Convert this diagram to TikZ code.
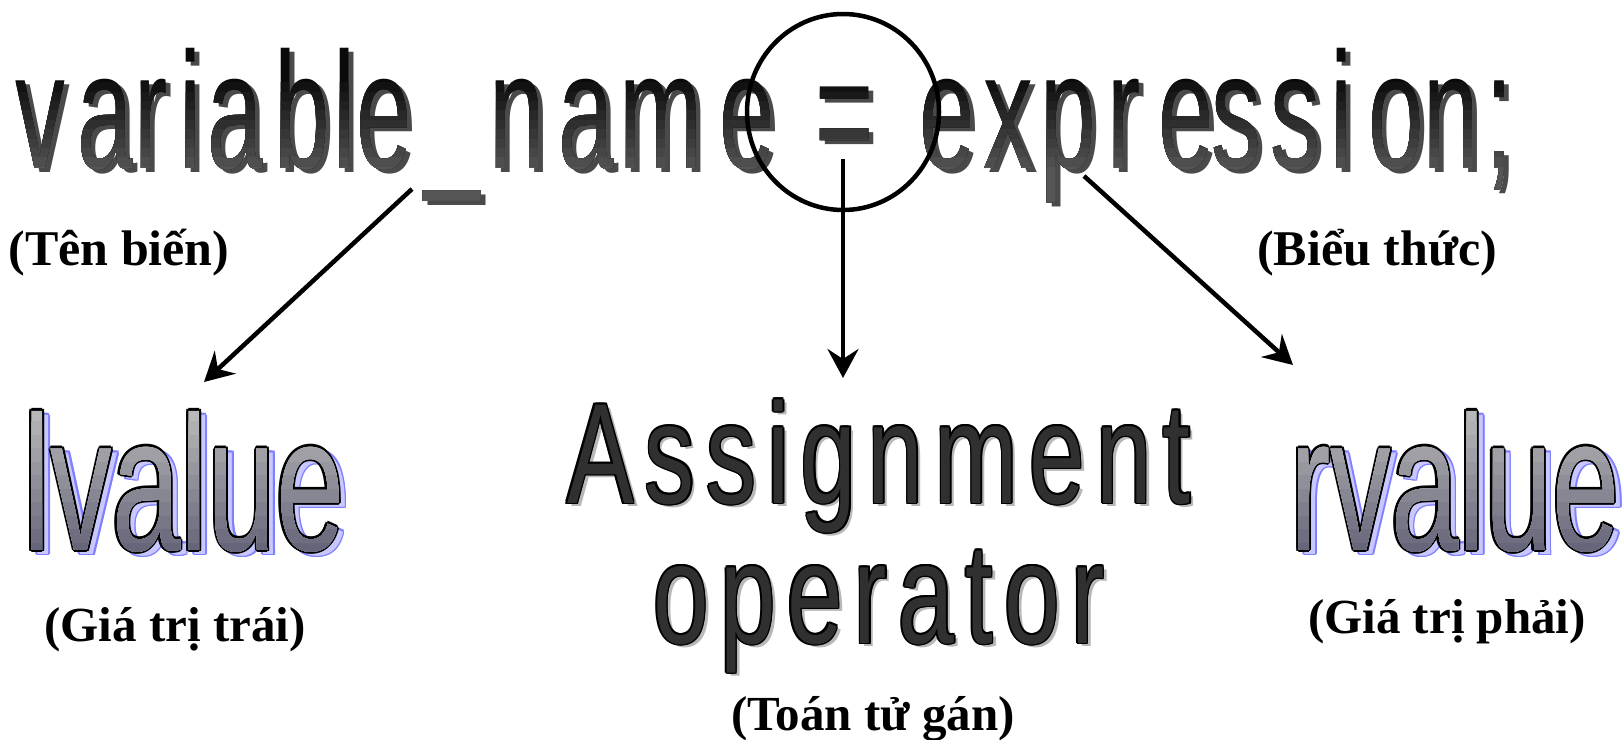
\documentclass[tikz,border=0pt]{standalone}
\usepackage{fontspec}
\usepackage{graphicx}
\setmainfont{Liberation Serif}
\newfontfamily\wafont{Liberation Sans}
\usetikzlibrary{arrows.meta}
\definecolor{toptop}{HTML}{0A0A0A}
\definecolor{topbot}{HTML}{555555}
\definecolor{topshadow}{HTML}{4A4A4A}
\definecolor{lvtop}{HTML}{B8B8B8}
\definecolor{lvbot}{HTML}{66667A}
\definecolor{lvshadow}{HTML}{C8C8FF}
\definecolor{lvshadowedge}{HTML}{8080FF}
\definecolor{asfill}{HTML}{303030}
\definecolor{asshadow}{HTML}{B8B8B8}
\newcommand\trk[2]{\def\trkamt{#1}\trkloop#2\relax}
\def\trkloop#1{\ifx#1\relax\else#1\kern\trkamt\expandafter\trkloop\fi}
\newcommand\lvtext{\scalebox{0.64}[1]{lvalue}}
\newcommand\rvtext{\scalebox{0.63}[1]{rvalue}}
\newcommand\asgtext{\scalebox{0.7}[1]{\trk{16pt}{Assignment}\kern-16pt}}
\newcommand\optext{\scalebox{0.7}[1]{\trk{16pt}{operator}\kern-16pt}}
% banded vertical gradient: #1 y top, #2 y bottom, #3 top colour, #4 bottom colour, #5 bands, #6 drawing code using colour gc
\newcommand\gradpaint[6]{%
  \foreach \k in {0,...,#5} {%
    \pgfmathsetmacro\pp{100*\k/#5}%
    \pgfmathsetmacro\ya{ifthenelse(\k==0,0,#1+(\k-0.5)*(#2-#1)/#5)}%
    \colorlet{gc}{#4!\pp!#3}%
    \begin{scope}
      \clip (0,\ya) rectangle (1622,739);
      #6
    \end{scope}
  }}
\begin{document}
\begin{tikzpicture}[x=1pt,y=-1pt,
  toptxt/.style={anchor=base,inner sep=0pt,font=\wafont\fontsize{166}{166}\selectfont},
  bigtxt/.style={anchor=base,inner sep=0pt,font=\wafont\fontsize{192}{192}\selectfont},
  astxt/.style={anchor=base,inner sep=0pt,font=\wafont\fontsize{143}{143}\selectfont},
  lbltop/.style={anchor=base,inner sep=0pt,font=\bfseries\fontsize{50}{50}\selectfont},
  lblbot/.style={anchor=base,inner sep=0pt,font=\bfseries\fontsize{49}{49}\selectfont},
  conn/.style={line width=4.5pt,-{Stealth[length=29pt,width=31pt,inset=10pt]}}]
\useasboundingbox (0,0) rectangle (1622,739);
\fill[white] (0,0) rectangle (1622,739);
% top line: shadow
\foreach \c/\x in {v/40,a/105,r/151,i/191,a/235,b/302,l/345,e/384,\_/452,n/517,a/586,m/661,e/747,=/845,e/947,x/1008,p/1068,r/1124,e/1186,s/1236,s/1295,i/1342,o/1396,n/1451,;/1499}{
  \node[toptxt,text=topshadow] (ts\x) at (\x+5,172) {\scalebox{0.6}[1]{\c}};
}
% top line: gradient letters
\gradpaint{78}{172}{toptop}{topbot}{10}{%
  \foreach \c/\x in {v/40,a/105,r/151,i/191,a/235,b/302,l/345,e/384,\_/452,n/517,a/586,m/661,e/747,=/845,e/947,x/1008,p/1068,r/1124,e/1186,s/1236,s/1295,i/1342,o/1396,n/1451,;/1499}{
    \node[toptxt,text=gc] (tc\x) at (\x,168) {\scalebox{0.6}[1]{\c}};
  }}
% labels
\node[lbltop] (tenbien) at (119,265) {(Tên biến)};
\node[lbltop] (bieuthuc) at (1377,265) {(Biểu thức)};
\node[lblbot] (giatritrai) at (175,641) {(Giá trị trái)};
\node[lblbot] (giatriphai) at (1447,633) {(Giá trị phải)};
\node[lblbot] (toantugan) at (873,730) {(Toán tử gán)};
% lvalue
\foreach \a in {0,45,...,315} \node[bigtxt,text=lvshadowedge] at ([shift={(\a:1.8pt)}]190,554) {\lvtext};
\node[bigtxt,text=lvshadow] (lvshad) at (190,554) {\lvtext};
\foreach \a in {0,45,...,315} \node[bigtxt,text=black] at ([shift={(\a:2.2pt)}]184,550) {\lvtext};
\gradpaint{415}{550}{lvtop}{lvbot}{10}{\node[bigtxt,text=gc] (lvalue) at (184,550) {\lvtext};}
% rvalue
\foreach \a in {0,45,...,315} \node[bigtxt,text=lvshadowedge] at ([shift={(\a:1.8pt)}]1461,554) {\rvtext};
\node[bigtxt,text=lvshadow] (rvshad) at (1461,554) {\rvtext};
\foreach \a in {0,45,...,315} \node[bigtxt,text=black] at ([shift={(\a:2.2pt)}]1455,550) {\rvtext};
\gradpaint{415}{550}{lvtop}{lvbot}{10}{\node[bigtxt,text=gc] (rvalue) at (1455,550) {\rvtext};}
% Assignment operator
\node[astxt,text=asshadow] (asshad) at (883,506) {\asgtext};
\node[astxt,text=asshadow] (opshad) at (883,646) {\optext};
\foreach \a in {0,45,...,315} {
  \node[astxt,text=black] at ([shift={(\a:1.6pt)}]879,503) {\asgtext};
  \node[astxt,text=black] at ([shift={(\a:1.6pt)}]879,643) {\optext};
}
\node[astxt,text=asfill] (assign) at (879,503) {\asgtext};
\node[astxt,text=asfill] (operator) at (879,643) {\optext};
% circle and arrows
\draw[line width=4.5pt] (843,112) ellipse [x radius=96pt, y radius=98pt];
\coordinate (ls) at (412,189);
\coordinate (le) at (204,382);
\coordinate (ms) at (843,159);
\coordinate (me) at (843,378);
\coordinate (rs) at (1084,176);
\coordinate (re) at (1293,365);
\draw[conn] (ls) -- (le);
\draw[conn] (ms) -- (me);
\draw[conn] (rs) -- (re);
\end{tikzpicture}
\end{document}
